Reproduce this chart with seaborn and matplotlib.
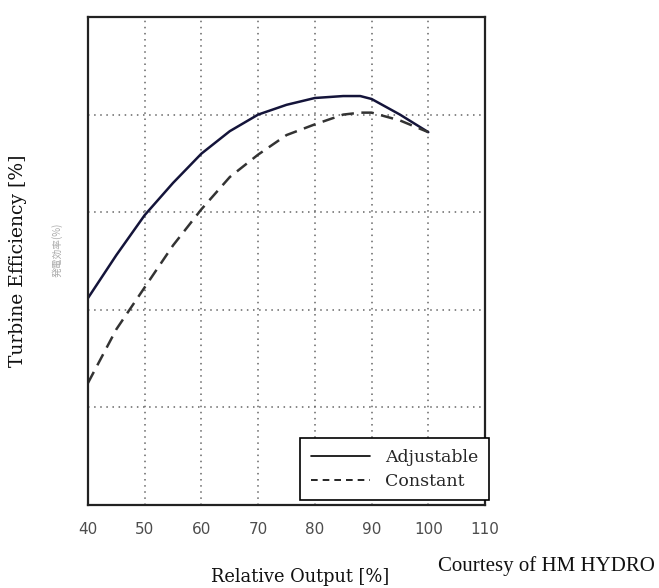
import matplotlib
matplotlib.use("Agg")
import matplotlib.pyplot as plt
from matplotlib.lines import Line2D
import seaborn as sns
import pandas as pd

# Relative output [%]
output_pct = [40, 45, 50, 55, 60, 65, 70, 75, 80, 85, 88, 90, 95, 100]
# Turbine efficiency [%] for adjustable-speed and constant-speed operation
adjustable_eff = [71.2, 75.6, 79.7, 83.0, 86.0, 88.3, 90.0, 91.0, 91.7, 91.9, 91.9, 91.6, 90.0, 88.2]
constant_eff = [62.5, 68.0, 72.3, 76.6, 80.3, 83.6, 85.9, 87.9, 89.0, 90.0, 90.2, 90.2, 89.4, 88.2]

x_ticks = [40, 50, 60, 70, 80, 90, 100, 110]
y_grid = [50, 60, 70, 80, 90, 100]

df = pd.DataFrame({
    "Relative Output": output_pct * 2,
    "Efficiency": adjustable_eff + constant_eff,
    "Mode": ["Adjustable"] * len(output_pct) + ["Constant"] * len(output_pct),
})

sns.set_style("white")
plt.rcParams["font.family"] = ["DejaVu Sans", "Noto Sans CJK JP"]

fig = plt.figure(figsize=(6.59, 5.88), dpi=100)
ax = fig.add_axes([0.1335, 0.1412, 0.6025, 0.8299])

sns.lineplot(
    data=df, x="Relative Output", y="Efficiency", hue="Mode", style="Mode",
    palette={"Adjustable": "#14143a", "Constant": "#333333"},
    dashes={"Adjustable": "", "Constant": (5, 3)},
    linewidth=1.8, ax=ax, legend=False, sort=False,
)

ax.set_xlim(40, 110)
ax.set_ylim(50, 100)
ax.set_xticks(x_ticks)
ax.set_xticklabels([str(t) for t in x_ticks], color="#4d4d4d", fontsize=11)
ax.set_yticks(y_grid)
ax.set_yticklabels([])
ax.tick_params(axis="x", direction="in", length=3, width=1, pad=12, color="#222222")
ax.tick_params(axis="y", length=0)
ax.grid(True, linestyle=(0, (1, 3)), color="#666666", linewidth=1.1)
for sp in ax.spines.values():
    sp.set_color("#222222")
    sp.set_linewidth(1.6)
ax.set_xlabel("")
ax.set_ylabel("")

# legend box in the lower right corner
handles = [
    Line2D([], [], color="black", linewidth=1.2),
    Line2D([], [], color="black", linewidth=1.2, linestyle=(0, (4, 3))),
]
leg = ax.legend(handles, ["Adjustable", "Constant"], loc="lower right",
                bbox_to_anchor=(1.01, 0.01), borderaxespad=0, fancybox=False,
                framealpha=1, edgecolor="black", handlelength=3.4,
                prop={"family": "DejaVu Serif", "size": 12.5},
                borderpad=0.6, labelspacing=0.4, handletextpad=0.9)
leg.get_frame().set_linewidth(1.2)
leg.set_zorder(5)

fig.text(0.027, 0.556, "Turbine Efficiency [%]", rotation=90, ha="center", va="center",
         family="DejaVu Serif", fontsize=13.5, color="#111111")
fig.text(0.0865, 0.575, "発電効率(%)", rotation=90, ha="center", va="center",
         family=["Noto Sans CJK JP", "DejaVu Sans"], fontsize=7, color="#aaaaaa")
fig.text(0.455, 0.019, "Relative Output [%]", ha="center", va="center",
         family="DejaVu Serif", fontsize=12.9, color="#111111")
fig.text(0.994, 0.038, "Courtesy of HM HYDRO", ha="right", va="center",
         family="Liberation Serif", fontsize=15, color="#111111")

fig.savefig("out.png", dpi=100, facecolor="white")
